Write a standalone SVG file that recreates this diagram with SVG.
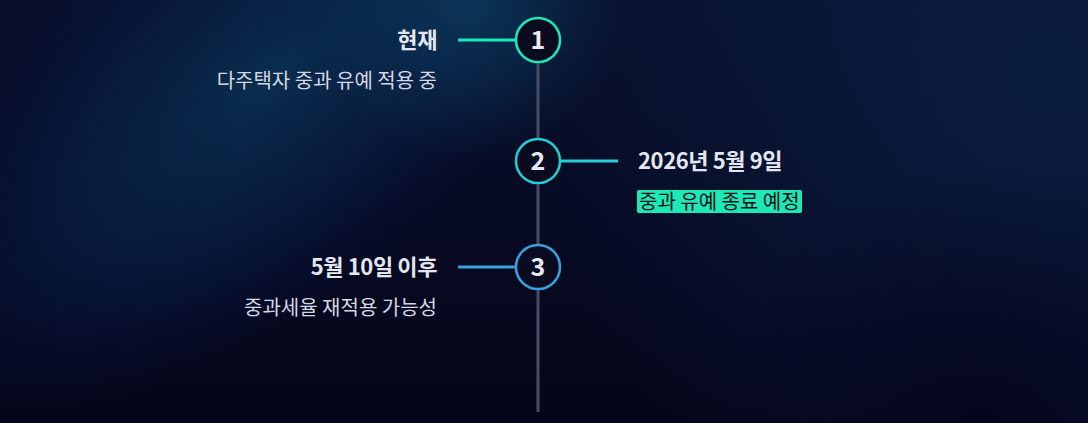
<svg xmlns="http://www.w3.org/2000/svg" width="1088" height="423" viewBox="0 0 1088 423">
<defs>
<linearGradient id="bg" x1="0" y1="0" x2="0" y2="1">
<stop offset="0" stop-color="#08102c"/>
<stop offset="1" stop-color="#05051a"/>
</linearGradient>
<radialGradient id="beam" cx="0.5" cy="0.5" r="0.5">
<stop offset="0" stop-color="#0a3050" stop-opacity="0.95"/>
<stop offset="0.55" stop-color="#08224a" stop-opacity="0.6"/>
<stop offset="1" stop-color="#061540" stop-opacity="0"/>
</radialGradient>
<radialGradient id="tr" cx="1050" cy="80" r="520" gradientUnits="userSpaceOnUse">
<stop offset="0" stop-color="#0b1f44" stop-opacity="0.9"/>
<stop offset="1" stop-color="#0b1f44" stop-opacity="0"/>
</radialGradient>
<radialGradient id="hot" cx="470" cy="0" r="160" gradientUnits="userSpaceOnUse">
<stop offset="0" stop-color="#0c3a5c" stop-opacity="0.8"/>
<stop offset="1" stop-color="#0c3a5c" stop-opacity="0"/>
</radialGradient>
<radialGradient id="dark" cx="980" cy="423" r="260" gradientUnits="userSpaceOnUse">
<stop offset="0" stop-color="#04041a" stop-opacity="0.8"/>
<stop offset="1" stop-color="#04041a" stop-opacity="0"/>
</radialGradient>
<style>
.spine{stroke:#4a4c66;stroke-width:3}
.node circle{fill:#0b0b1f;stroke-width:2.5}
.num{font-family:"Noto Sans CJK KR",sans-serif;font-weight:700;font-size:25px;fill:#e8e8f0;text-anchor:middle}
.title{font-family:"Noto Sans CJK KR",sans-serif;font-weight:700;font-size:22px;letter-spacing:-0.4px;fill:#e4e6ee}
.desc{font-family:"Noto Sans CJK KR",sans-serif;font-size:20px;fill:#d4d7e2}
.end{text-anchor:end}
.conn{stroke-width:3;fill:none}
</style>
</defs>
<rect width="1088" height="423" fill="url(#bg)"/>
<rect width="1088" height="423" fill="url(#tr)"/>
<rect width="1088" height="423" fill="url(#dark)"/>
<ellipse cx="270" cy="80" rx="460" ry="210" transform="rotate(-40 270 80)" fill="url(#beam)"/>
<rect width="1088" height="423" fill="url(#hot)"/>
<g id="connectors">
<line class="spine" x1="538" y1="62" x2="538" y2="412"/>
<line class="conn" x1="458" y1="40" x2="516" y2="40" stroke="#1de9b6"/>
<line class="conn" x1="560" y1="161" x2="618" y2="161" stroke="#22cfd6"/>
<line class="conn" x1="458" y1="267" x2="516" y2="267" stroke="#3aa0e0"/>
</g>
<g id="node1" class="node">
<circle cx="538" cy="40" r="22" stroke="#1de9b6"/>
<text class="num" x="538" y="49">1</text>
<text class="title end" x="437" y="48">현재</text>
<text class="desc end" x="437" y="88">다주택자 중과 유예 적용 중</text>
</g>
<g id="node2" class="node">
<circle cx="538" cy="161" r="22" stroke="#22cfd6"/>
<text class="num" x="538" y="170">2</text>
<text class="title" x="638" y="169">2026년 5월 9일</text>
<rect x="637" y="190" width="165" height="23" rx="2" fill="#1de9b6"/>
<text class="desc" x="639" y="209" style="fill:#08101a">중과 유예 종료 예정</text>
</g>
<g id="node3" class="node">
<circle cx="538" cy="267" r="22" stroke="#3aa0e0"/>
<text class="num" x="538" y="276">3</text>
<text class="title end" x="437" y="275">5월 10일 이후</text>
<text class="desc end" x="437" y="315">중과세율 재적용 가능성</text>
</g>
</svg>
